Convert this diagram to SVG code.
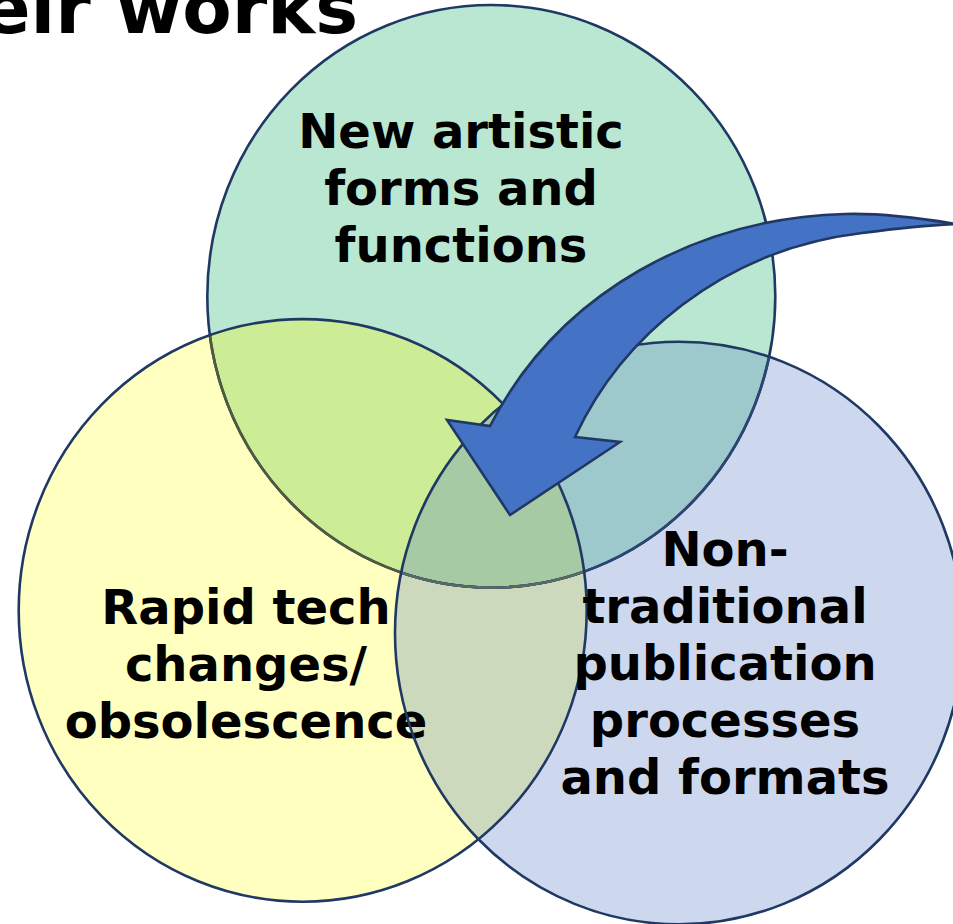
<svg xmlns="http://www.w3.org/2000/svg" xmlns:xlink="http://www.w3.org/1999/xlink" width="953" height="924" viewBox="0 0 953 924">
<style>
.lbl{font-family:"DejaVu Sans",Verdana,sans-serif;font-weight:bold;font-size:48px;fill:#000;text-anchor:middle}
.title{font-family:"DejaVu Sans",Verdana,sans-serif;font-weight:bold;font-size:72px;fill:#000;text-anchor:end}
.ol{fill:none;stroke:#1F3864;stroke-width:2.6}
.arrow{fill:#4472C4;stroke:#1F3864;stroke-width:2.6;stroke-linejoin:miter}
</style>
<defs>
<ellipse id="eG" cx="491.3" cy="296.3" rx="284" ry="291.3"/>
<ellipse id="eY" cx="302.7" cy="610.4" rx="284" ry="291.3"/>
<ellipse id="eB" cx="679" cy="633" rx="284" ry="291.3"/>
<clipPath id="cY"><use xlink:href="#eY"/></clipPath>
<clipPath id="cB"><use xlink:href="#eB"/></clipPath>
</defs>
<rect width="953" height="924" fill="#fff"/>
<text class="title" x="358" y="33">eir works</text>
<g id="regions">
<use xlink:href="#eG" fill="#B9E7D2"/>
<use xlink:href="#eY" fill="#FFFFC0"/>
<use xlink:href="#eB" fill="#CDD8EF"/>
<use xlink:href="#eG" fill="#CCEC96" clip-path="url(#cY)"/>
<use xlink:href="#eG" fill="#9DC8CC" clip-path="url(#cB)"/>
<use xlink:href="#eY" fill="#CDD9BC" clip-path="url(#cB)"/>
<g clip-path="url(#cY)"><use xlink:href="#eG" fill="#A5CAA4" clip-path="url(#cB)"/></g>
</g>
<g id="node-forms">
<use xlink:href="#eG" class="ol"/>
<use xlink:href="#eG" fill="none" stroke="#505A3C" stroke-width="2.6" clip-path="url(#cY)"/>
<use xlink:href="#eG" fill="none" stroke="#2C4673" stroke-width="2.6" clip-path="url(#cB)"/>
<g clip-path="url(#cY)"><use xlink:href="#eG" fill="none" stroke="#586A66" stroke-width="2.6" clip-path="url(#cB)"/></g>
<text class="lbl" x="461" y="148">New artistic</text>
<text class="lbl" x="461" y="205">forms and</text>
<text class="lbl" x="461" y="262">functions</text>
</g>
<g id="node-tech">
<use xlink:href="#eY" class="ol"/>
<text class="lbl" x="246" y="624">Rapid tech</text>
<text class="lbl" x="246" y="681">changes/</text>
<text class="lbl" x="246" y="738">obsolescence</text>
</g>
<g id="node-publication">
<use xlink:href="#eB" class="ol"/>
<text class="lbl" x="725" y="566">Non-</text>
<text class="lbl" x="725" y="623">traditional</text>
<text class="lbl" x="725" y="680">publication</text>
<text class="lbl" x="725" y="737">processes</text>
<text class="lbl" x="725" y="794">and formats</text>
</g>
<g id="connectors">
<path class="arrow" d="M 956,224 C 920,218 880,213 845,214 C 700,218 560,290 490,426 L 447,420 L 510,515 L 620,442 L 575,437 C 620,340 720,250 862,233 C 900,228 930,225 956,224 Z"/>
</g>
</svg>
